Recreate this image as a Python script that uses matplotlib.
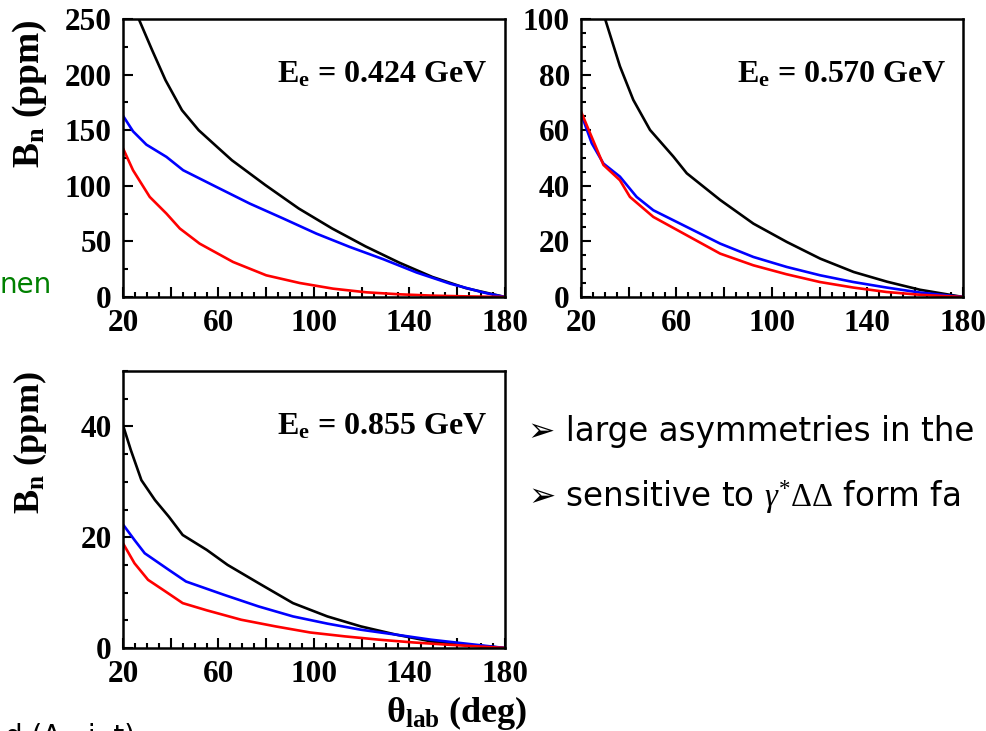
import matplotlib
matplotlib.use("Agg")
import matplotlib.pyplot as plt
from matplotlib.ticker import MultipleLocator, FuncFormatter

# ---------------- data ----------------
energies = ["0.424", "0.570", "0.855"]
ylims = [250, 100, 50]
y_major = [50, 20, 20]
y_minor = [25, 5, 5]

# Panel 1 : E = 0.424 GeV
black1_x = [26.6, 32.2, 37.8, 44.7, 51.7, 59.4, 65.6, 79.6, 93.6, 107.6, 121.6, 135.6, 149.6, 163.6, 180]
black1_y = [250, 222, 195, 168, 150, 135, 123, 100.7, 79.6, 61.6, 45.5, 31, 18, 8, 0]
blue1_x = [20, 24.2, 29.8, 38.2, 45.2, 59.1, 73.1, 87.1, 101, 115, 129, 143, 157, 171, 180]
blue1_y = [163, 149, 137, 126, 114, 99, 84, 70.6, 57, 45, 34, 22, 12, 4, 0]
red1_x = [20, 24.2, 31.2, 38.2, 43.8, 52.1, 66.1, 80, 94, 108, 122, 136, 150, 165, 180]
red1_y = [133.7, 114, 90, 75, 61.6, 48, 31.5, 19.5, 12.6, 7.5, 4.2, 2.4, 1.2, 0.5, 0]

# Panel 2 : E = 0.570 GeV
black2_x = [30.1, 36.3, 41.9, 48.9, 58.7, 64.3, 78.3, 92.2, 106.2, 120.2, 134.2, 148.2, 162, 180]
black2_y = [100, 83, 70.9, 60.1, 50.5, 44.5, 34.9, 26.4, 19.8, 13.8, 9, 5.5, 2.6, 0]
blue2_x = [20, 24.5, 29.4, 36.3, 43.3, 50.3, 64.3, 78.3, 92.2, 106.2, 120.2, 134, 148, 162, 180]
blue2_y = [66, 55.3, 48, 43.3, 36, 31.2, 25.2, 19.2, 14.4, 10.8, 7.8, 5.4, 3.4, 1.6, 0]
red2_x = [20, 29.4, 36.3, 40.5, 50.3, 64.3, 78.3, 92.2, 106, 120, 134, 148, 162, 180]
red2_y = [66.7, 47.5, 42, 36, 28.8, 22.2, 15.6, 11.4, 8.2, 5.4, 3.4, 1.8, 0.8, 0]

# Panel 3 : E = 0.855 GeV
black3_x = [20, 23.3, 27.7, 33.4, 39.2, 45, 55.1, 63.8, 76.8, 91.2, 105.6, 119.6, 134.5, 149, 163.4, 180]
black3_y = [40.2, 35.7, 30.3, 26.7, 23.7, 20.4, 17.7, 15, 11.7, 8.1, 5.7, 3.9, 2.4, 1.2, 0.6, 0]
blue3_x = [20, 24.8, 29.1, 39.2, 46.4, 62.3, 76.8, 91.2, 105.6, 119.6, 134.5, 149, 163.4, 180]
blue3_y = [22.3, 19.5, 17.1, 14.1, 12, 9.6, 7.5, 5.7, 4.4, 3.3, 2.4, 1.5, 0.8, 0]
red3_x = [20, 24.8, 30.5, 37.8, 45, 55.1, 69.5, 83.9, 98.4, 112.9, 127.3, 141.7, 156, 180]
red3_y = [18.9, 15.3, 12.3, 10.2, 8.1, 6.8, 5.1, 3.9, 2.8, 2.1, 1.5, 1.0, 0.6, 0]

x_tick_labels = [20, 60, 100, 140, 180]

series = [
    [(black1_x, black1_y), (blue1_x, blue1_y), (red1_x, red1_y)],
    [(black2_x, black2_y), (blue2_x, blue2_y), (red2_x, red2_y)],
    [(black3_x, black3_y), (blue3_x, blue3_y), (red3_x, red3_y)],
]
colors = ["black", "#0000ff", "#ff0000"]

# ---------------- style ----------------
plt.rcParams["mathtext.fontset"] = "custom"
plt.rcParams["mathtext.rm"] = "Liberation Serif"
plt.rcParams["mathtext.bf"] = "Liberation Serif:bold"
plt.rcParams["mathtext.it"] = "Liberation Serif:italic"

W, H = 987, 731
fig = plt.figure(figsize=(W / 100, H / 100), dpi=100)


def px_rect(l, t, r, b):
    return [l / W, 1 - b / H, (r - l) / W, (b - t) / H]


rects = [px_rect(123, 19, 505, 297), px_rect(581, 19, 963, 297), px_rect(123, 371, 505, 648)]
serif = dict(family="Liberation Serif", weight="bold")


def xfmt(v, pos):
    iv = int(round(v))
    return str(iv) if iv in x_tick_labels else ""


for i, rect in enumerate(rects):
    ax = fig.add_axes(rect)
    for (xs, ys), c in zip(series[i], colors):
        ax.plot(xs, ys, color=c, lw=1.9, solid_joinstyle="round", solid_capstyle="round")
    ax.set_xlim(20, 180)
    ax.set_ylim(0, ylims[i])
    ax.xaxis.set_major_locator(MultipleLocator(20))
    ax.xaxis.set_minor_locator(MultipleLocator(5))
    ax.xaxis.set_major_formatter(FuncFormatter(xfmt))
    ax.yaxis.set_major_locator(MultipleLocator(y_major[i]))
    ax.yaxis.set_minor_locator(MultipleLocator(y_minor[i]))
    ax.tick_params(which="both", direction="in", top=False, right=False, width=1.5, colors="black")
    ax.tick_params(which="major", length=7)
    ax.tick_params(which="minor", length=3.5)
    ax.tick_params(axis="y", pad=8)
    ax.tick_params(axis="x", pad=9)
    for lab in ax.get_xticklabels() + ax.get_yticklabels():
        lab.set_fontfamily("Liberation Serif")
        lab.set_fontweight("bold")
        lab.set_fontsize(22.5)
    for sp in ax.spines.values():
        sp.set_linewidth(1.8)
    ax.text(0.955, 0.80, r"E$_{\mathbf{e}}$ = " + energies[i] + " GeV", transform=ax.transAxes,
            ha="right", va="center", fontsize=23, **serif)

# y labels
fig.text(30 / W, 1 - 19 / H, r"B$_{\mathbf{n}}$ (ppm)", rotation=90, ha="center", va="top",
         fontsize=27, **serif)
fig.text(30 / W, 1 - 371 / H, r"B$_{\mathbf{n}}$ (ppm)", rotation=90, ha="center", va="top",
         fontsize=26, **serif)
# x label
fig.text(527 / W, 1 - 722 / H, r"$\mathbf{\theta_{lab}}$ (deg)", ha="right", va="baseline",
         fontsize=26, **serif)

# slide text fragments
fig.text(0 / W, 1 - 293 / H, "nen", color="#008000", fontsize=20, family="DejaVu Sans",
         ha="left", va="baseline")
fig.text(528 / W, 1 - 441 / H, "\u27a2 large asymmetries in the", fontsize=23.5,
         family="DejaVu Sans", ha="left", va="baseline")
fig.text(528 / W, 1 - 507 / H, "\u27a2 sensitive to $\\gamma^{*}\\Delta\\Delta$ form fa", fontsize=23.5,
         family="DejaVu Sans", ha="left", va="baseline")
fig.text(5 / W, 1 - 745 / H, "d (\u039b   i  t)", fontsize=20, family="DejaVu Sans",
         ha="left", va="baseline")

fig.savefig("out.png", dpi=100)
